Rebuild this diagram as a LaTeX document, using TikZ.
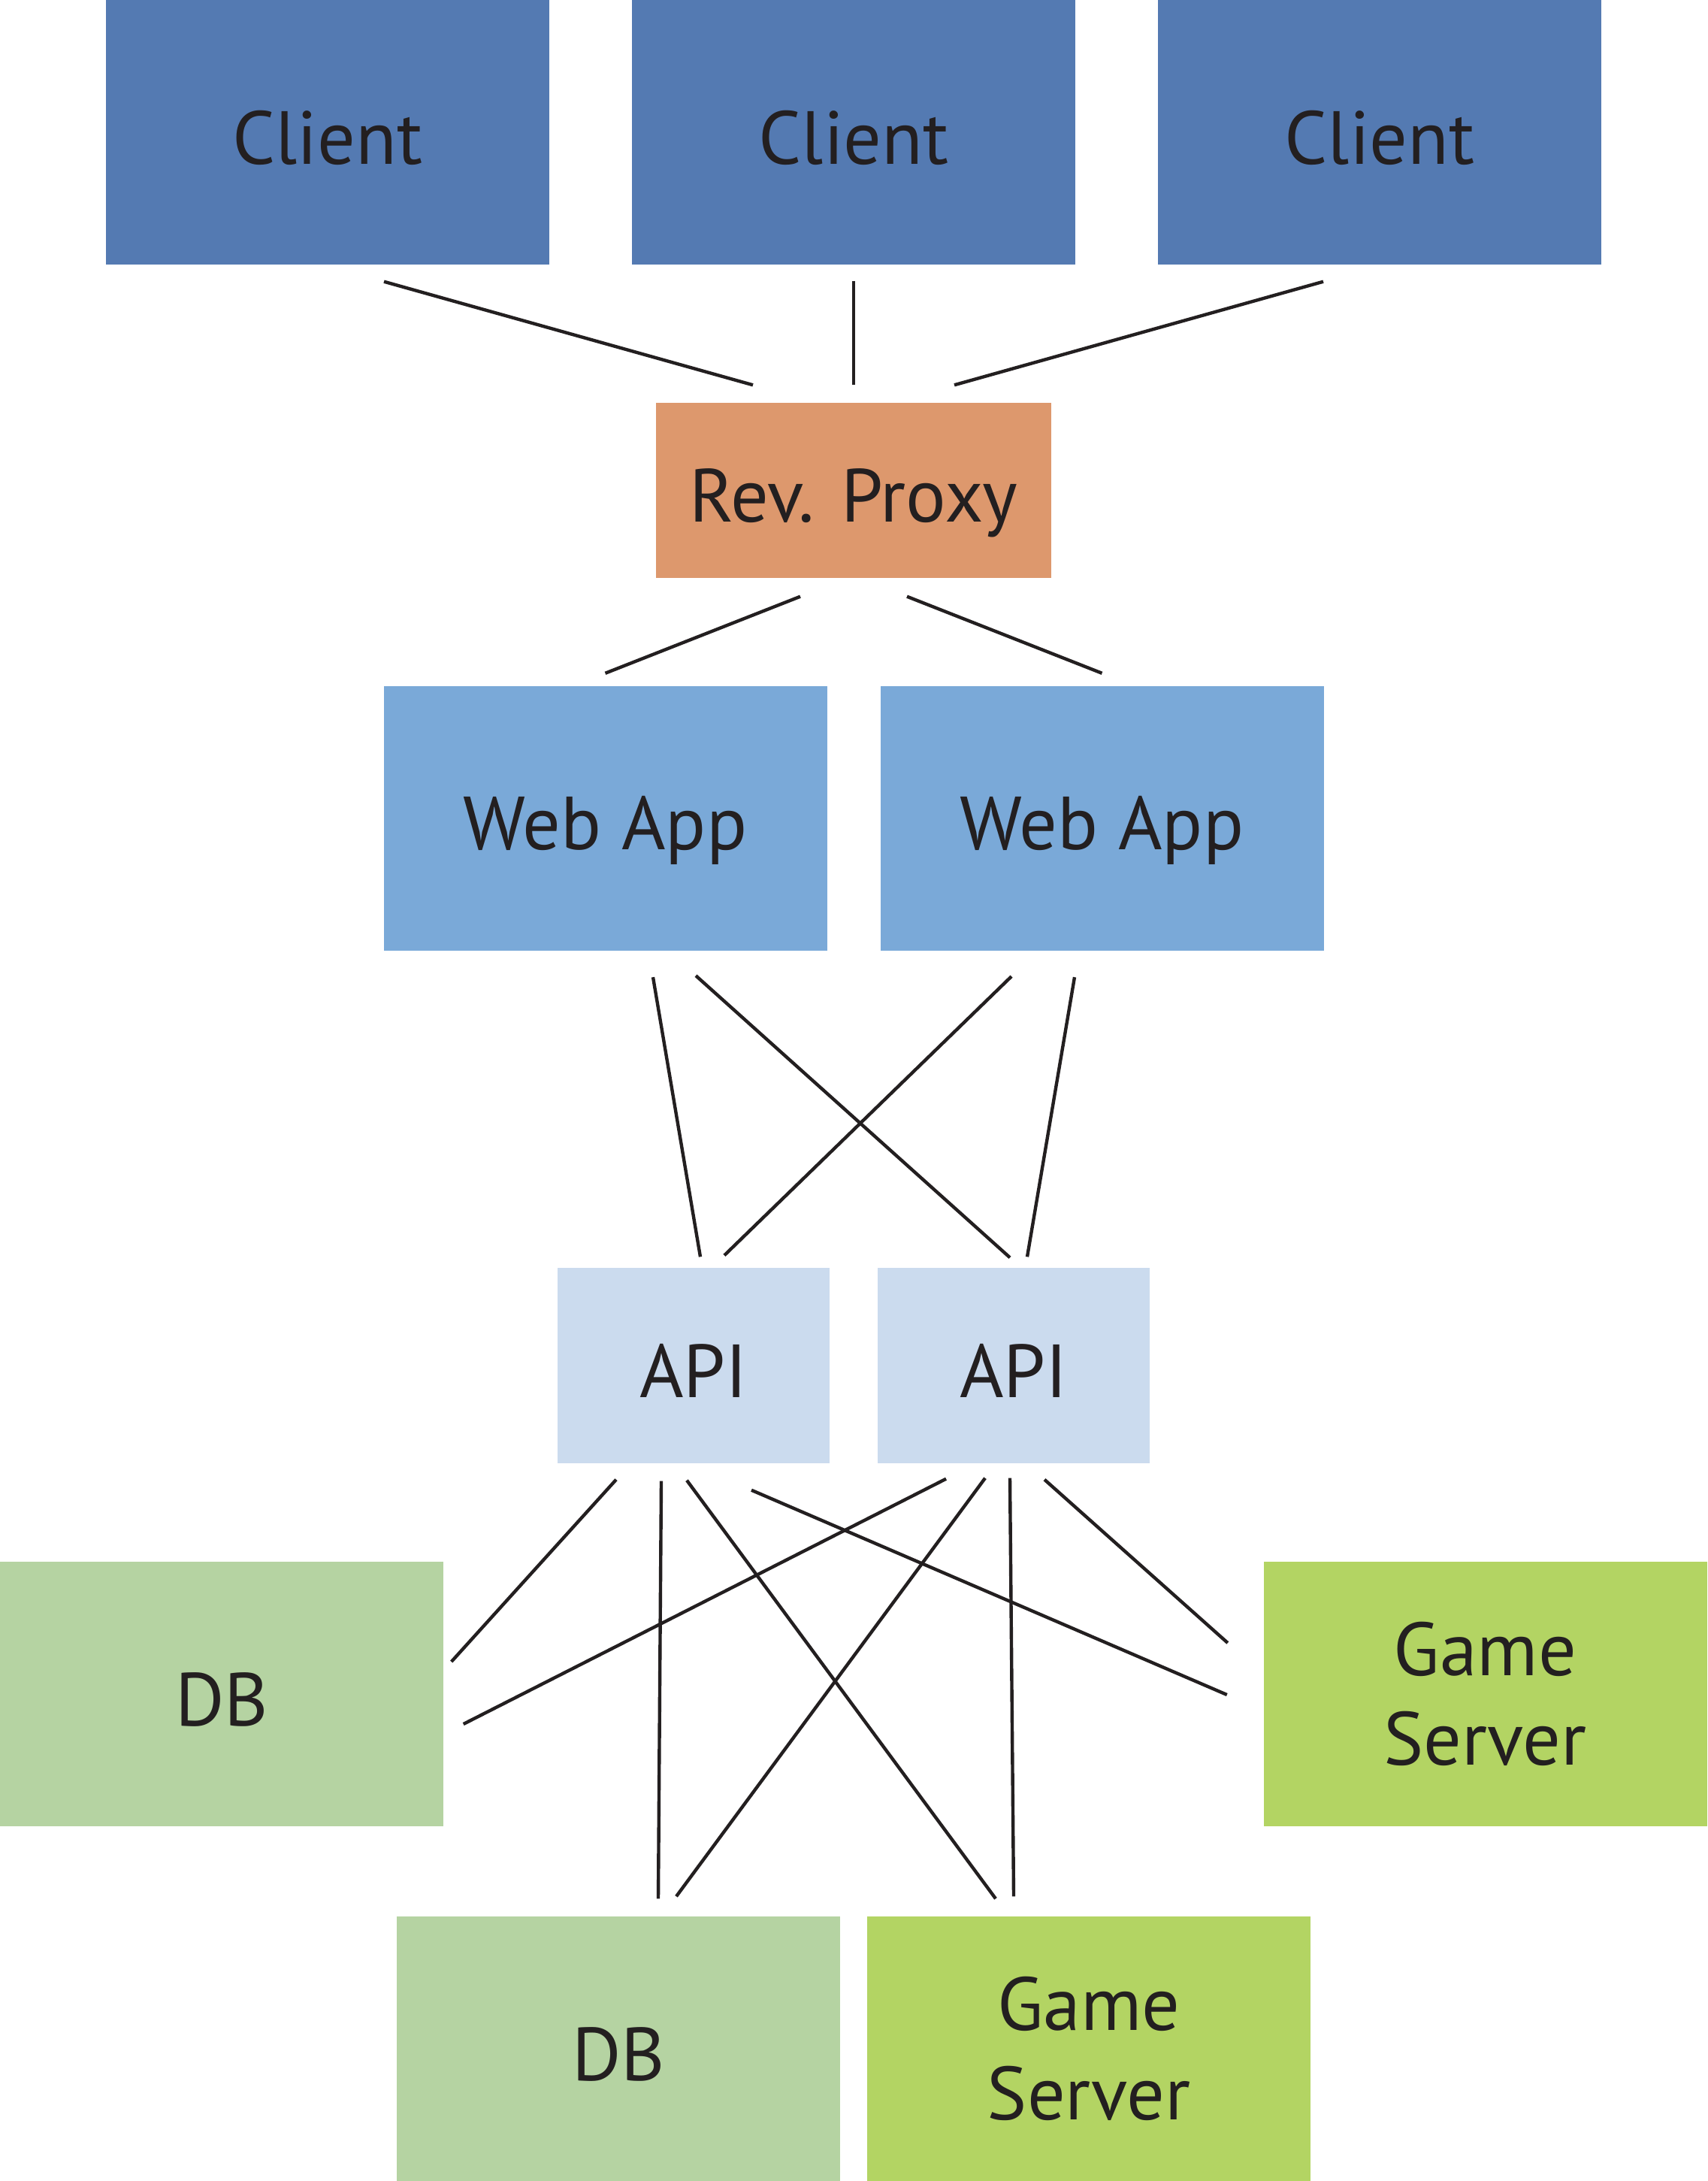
\documentclass[tikz,border=0pt]{standalone}
\usepackage{fontspec}
\usepackage{tikz}
\usetikzlibrary{calc}
\newfontfamily\boxfont{PT Sans}
\definecolor{srvclient}{RGB}{84,122,178}
\definecolor{srvproxy}{RGB}{221,152,109}
\definecolor{srvweb}{RGB}{122,169,216}
\definecolor{srvapi}{RGB}{203,219,238}
\definecolor{srvdb}{RGB}{181,211,162}
\definecolor{srvgame}{RGB}{179,212,99}
\definecolor{srvink}{RGB}{35,31,32}

\begin{document}
\begin{tikzpicture}[
    box/.style={rectangle, inner sep=0pt, minimum width=5.9cm, minimum height=3.52cm,
      text=srvink, align=center, font=\boxfont\fontsize{28.5}{34}\selectfont},
    solo/.style={text height=28pt, text depth=4pt},
    wire/.style={draw=srvink, line width=1.25pt}]
  \path[use as bounding box, fill=white] (0,0) rectangle (22.72,-29.02);
  % clients
  \node[box, solo, fill=srvclient] (c1) at (4.36,-1.76) {Client};
  \node[box, solo, fill=srvclient] (c2) at (11.36,-1.76) {Client};
  \node[box, solo, fill=srvclient] (c3) at (18.36,-1.76) {Client};
  \node[box, solo, fill=srvproxy, minimum width=5.26cm, minimum height=2.33cm] (px) at (11.36,-6.525) {Rev. Proxy};
  % web and api tier
  \node[box, solo, fill=srvweb] (w1) at (8.055,-10.885) {Web App};
  \node[box, solo, fill=srvweb] (w2) at (14.665,-10.885) {Web App};
  \node[box, solo, fill=srvapi, minimum width=3.62cm, minimum height=2.6cm] (a1) at (9.23,-18.17) {API};
  \node[box, solo, fill=srvapi, minimum width=3.62cm, minimum height=2.6cm] (a2) at (13.49,-18.17) {API};
  % storage and game servers
  \node[box, solo, fill=srvdb] (db1) at (2.95,-22.54) {DB};
  \node[box, fill=srvgame] (gs1) at (19.765,-22.54) {Game\\Server};
  \node[box, solo, fill=srvdb] (db2) at (8.23,-27.26) {DB};
  \node[box, fill=srvgame] (gs2) at (14.49,-27.26) {Game\\Server};
  % links, free ends kept off the boxes
  \foreach \a/\da/\b/\db in {
      c1.south/{0.75,-0.22}/px.north/{-1.34,0.23},
      c2.south/{0,-0.21}/px.north/{0,0.23},
      c3.south/{-0.75,-0.22}/px.north/{1.34,0.23},
      px.south/{-0.71,-0.24}/w1.north/{0,0.16},
      px.south/{0.71,-0.24}/w2.north/{0,0.16},
      w1.south/{0.635,-0.35}/a1.north/{0.09,0.14},
      w1.south/{1.205,-0.33}/a2.north/{-0.05,0.13},
      w2.south/{-1.205,-0.34}/a1.north/{0.41,0.16},
      w2.south/{-0.365,-0.35}/a2.north/{0.18,0.14},
      a1.south/{-1.03,-0.21}/db1.east/{0.10,0.43},
      a1.south/{-0.43,-0.23}/db2.north/{0.53,0.23},
      a1.south/{-0.09,-0.22}/gs2.north/{-1.24,0.23},
      a1.south/{0.77,-0.35}/gs1.west/{-0.48,-0.01},
      a2.south/{-0.90,-0.20}/db1.east/{0.26,-0.40},
      a2.south/{-0.38,-0.19}/db2.north/{0.77,0.26},
      a2.south/{-0.05,-0.19}/gs2.north/{-1.00,0.26},
      a2.south/{0.41,-0.21}/gs1.west/{-0.47,0.68}}
    \draw[wire] ($(\a)+(\da)$) -- ($(\b)+(\db)$);
\end{tikzpicture}
\end{document}
